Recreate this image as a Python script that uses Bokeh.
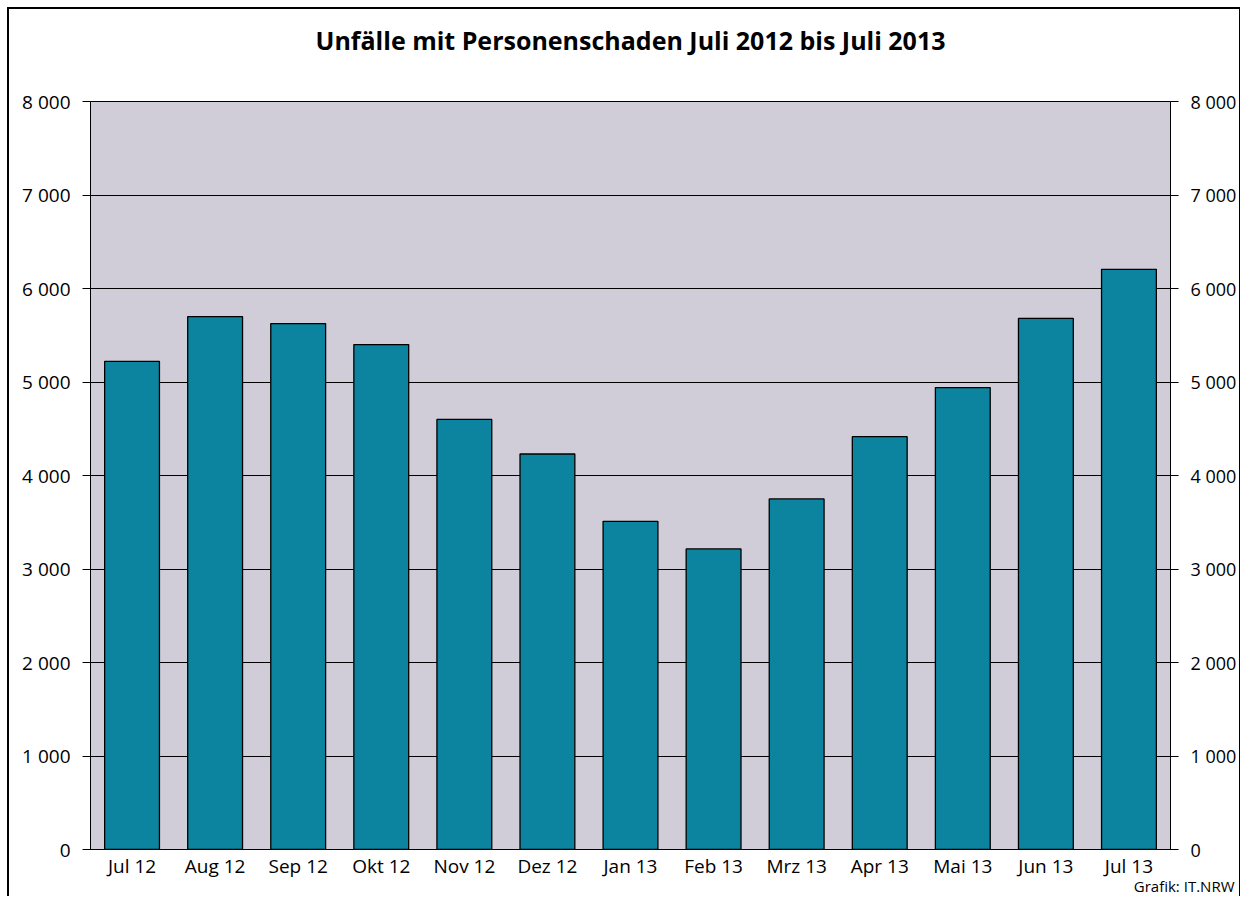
from bokeh.plotting import figure
from bokeh.models import (FactorRange, Range1d, LinearAxis, FixedTicker,
                          CustomJSTickFormatter, Title, ColumnDataSource)
from bokeh.embed import file_html
from bokeh.resources import INLINE

months = ["Jul 12", "Aug 12", "Sep 12", "Okt 12", "Nov 12", "Dez 12", "Jan 13",
          "Feb 13", "Mrz 13", "Apr 13", "Mai 13", "Jun 13", "Jul 13"]
unfaelle = [5220, 5700, 5625, 5400, 4600, 4230, 3510, 3215, 3750, 4415, 4940, 5680, 6205]
y_ticks = [0, 1000, 2000, 3000, 4000, 5000, 6000, 7000, 8000]
title_text = "Unfälle mit Personenschaden Juli 2012 bis Juli 2013"
source_text = "Grafik: IT.NRW"

FONT = "Open Sans"

p = figure(width=1240, height=896, x_range=FactorRange(*months),
           y_range=Range1d(0, 8000), output_backend="svg", toolbar_location=None,
           min_border_left=90, min_border_right=70, min_border_top=101,
           min_border_bottom=47)
p.background_fill_color = "#d0ccd8"
p.border_fill_color = None
p.outline_line_color = "black"
p.styles = {
    "background": ("linear-gradient(#000,#000) 7px 7px / 2px 100% no-repeat, "
                   "linear-gradient(#000,#000) 7px 7px / 100% 2px no-repeat, "
                   "linear-gradient(#000,#000) right 0px top 7px / 1px 100% no-repeat, "
                   "#ffffff"),
}

src = ColumnDataSource(dict(month=months, value=unfaelle))
p.vbar(x="month", top="value", width=0.66, source=src,
       fill_color="#0d849f", line_color="black", line_width=1.3)

fmt = CustomJSTickFormatter(code="""
return tick.toFixed(0).replace(/\\B(?=(\\d{3})+(?!\\d))/g, " ");
""")

def style_y(ax, standoff, size):
    ax.ticker = FixedTicker(ticks=y_ticks)
    ax.formatter = fmt
    ax.major_tick_out = 8
    ax.major_tick_in = 0
    ax.minor_tick_line_color = None
    ax.major_tick_line_color = "black"
    ax.axis_line_color = "black"
    ax.major_label_standoff = standoff
    ax.major_label_text_font = FONT
    ax.major_label_text_font_size = size
    ax.major_label_text_color = "black"

style_y(p.yaxis[0], 12, "19px")
ra = LinearAxis()
style_y(ra, 12, "18px")
p.add_layout(ra, "right")

xa = p.xaxis[0]
xa.major_tick_line_color = None
xa.minor_tick_line_color = None
xa.major_tick_out = 0
xa.major_tick_in = 0
xa.axis_line_color = "black"
xa.major_label_standoff = 3
xa.major_label_text_font = FONT
xa.major_label_text_font_size = "19px"
xa.major_label_text_color = "black"

p.xgrid.grid_line_color = None
p.ygrid.ticker = FixedTicker(ticks=y_ticks)
p.ygrid.grid_line_color = "black"
p.ygrid.grid_line_width = 1

p.add_layout(Title(text=source_text, align="right", offset=-64, standoff=-12,
                   vertical_align="top",
                   text_font=FONT, text_font_size="15px", text_font_style="normal",
                   text_color="black"), "below")
# spacer between frame and main title
p.add_layout(Title(text=" ", align="center", standoff=19, vertical_align="top",
                   text_font=FONT, text_font_size="16px"), "above")
p.add_layout(Title(text=title_text, align="center", standoff=0,
                   vertical_align="top",
                   text_font=FONT, text_font_size="25px", text_font_style="bold",
                   text_color="black"), "above")

open("out.html", "w").write(file_html(p, INLINE))
